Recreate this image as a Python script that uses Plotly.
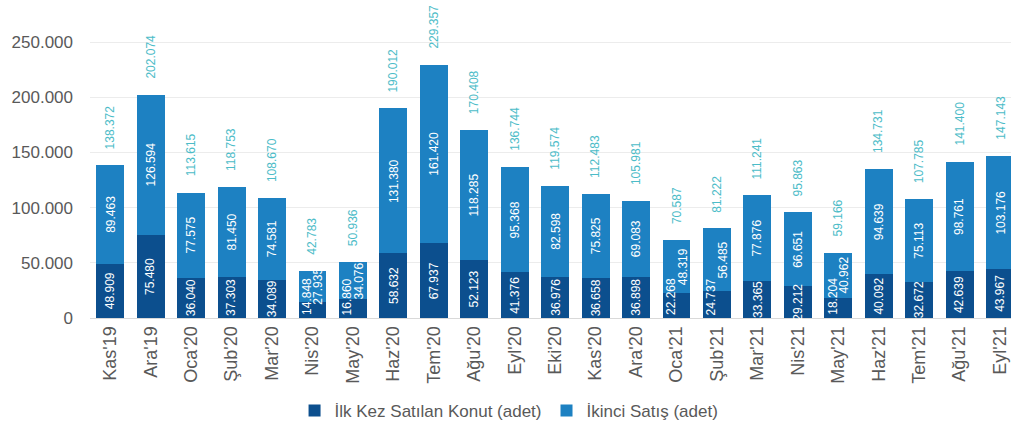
import plotly.graph_objects as go

categories = ["Kas'19", "Ara'19", "Oca'20", "Şub'20", "Mar'20", "Nis'20", "May'20", "Haz'20",
              "Tem'20", "Ağu'20", "Eyl'20", "Eki'20", "Kas'20", "Ara'20", "Oca'21", "Şub'21",
              "Mar'21", "Nis'21", "May'21", "Haz'21", "Tem'21", "Ağu'21", "Eyl'21"]
ilk_kez = [48909, 75480, 36040, 37303, 34089, 14848, 16860, 58632, 67937, 52123, 41376, 36976,
           36658, 36898, 22268, 24737, 33365, 29212, 18204, 40092, 32672, 42639, 43967]
ikinci = [89463, 126594, 77575, 81450, 74581, 27935, 34076, 131380, 161420, 118285, 95368, 82598,
          75825, 69083, 48319, 56485, 77876, 66651, 40962, 94639, 75113, 98761, 103176]
toplam = [138372, 202074, 113615, 118753, 108670, 42783, 50936, 190012, 229357, 170408, 136744,
          119574, 112483, 105981, 70587, 81222, 111241, 95863, 59166, 134731, 107785, 141400, 147143]
y_ticks = [0, 50000, 100000, 150000, 200000, 250000]
y_tick_labels = ["0", "50.000", "100.000", "150.000", "200.000", "250.000"]

DARK = "#0c4f8e"
LIGHT = "#1d81c2"
TOTAL_C = "#4cbcc8"
FONT = "Liberation Sans, Arial, sans-serif"


def fmt(v):
    return f"{v:,}".replace(",", ".")


fig = go.Figure()
fig.add_trace(go.Bar(x=categories, y=ilk_kez, name="İlk Kez Satılan Konut (adet)",
                     marker=dict(color=DARK, line=dict(width=0)), width=0.69))
fig.add_trace(go.Bar(x=categories, y=ikinci, name="İkinci Satış (adet)",
                     marker=dict(color=LIGHT, line=dict(width=0)), width=0.69))

annotations = []
for i, c in enumerate(categories):
    d, l, t = ilk_kez[i], ikinci[i], toplam[i]
    small = d < 26000
    lab_font = dict(color="white", size=12, family=FONT)
    if small:
        annotations.append(dict(x=c, y=0, text=fmt(d), textangle=-90, showarrow=False,
                                xanchor="center", yanchor="bottom", xshift=-6, yshift=1,
                                font=lab_font))
        annotations.append(dict(x=c, y=d + l / 2, text=fmt(l), textangle=-90, showarrow=False,
                                xanchor="center", yanchor="middle", xshift=6,
                                font=lab_font))
    else:
        annotations.append(dict(x=c, y=d / 2, text=fmt(d), textangle=-90, showarrow=False,
                                xanchor="center", yanchor="middle", font=lab_font))
        annotations.append(dict(x=c, y=d + l / 2, text=fmt(l), textangle=-90, showarrow=False,
                                xanchor="center", yanchor="middle", font=lab_font))
    annotations.append(dict(x=c, y=t, text=fmt(t), textangle=-90, showarrow=False,
                            xanchor="center", yanchor="bottom", yshift=14,
                            font=dict(color=TOTAL_C, size=12, family=FONT)))

fig.update_layout(
    barmode="stack",
    width=1011, height=425,
    margin=dict(l=90, r=0, t=30, b=107, autoexpand=False),
    paper_bgcolor="white", plot_bgcolor="white",
    font=dict(family=FONT, color="#595959"),
    annotations=annotations,
    showlegend=True,
    legend=dict(orientation="h", x=0.455, xanchor="center", y=-0.26, yanchor="top",
                font=dict(size=17, color="#595959"), itemwidth=30, traceorder="normal"),
    xaxis=dict(range=[-0.5, 22.27], tickangle=-90, tickfont=dict(size=18, color="#595959"),
               showgrid=False, showline=True, linecolor="#d9d9d9", linewidth=1, ticks="",
               automargin=False),
    yaxis=dict(range=[0, 260870], tickvals=y_ticks, ticktext=y_tick_labels,
               tickfont=dict(size=17, color="#595959"), showgrid=True, gridcolor="#ececec",
               gridwidth=1, zeroline=False, showline=False, ticks="", ticklabelstandoff=16,
               automargin=False),
)

fig.write_html("out.html")
